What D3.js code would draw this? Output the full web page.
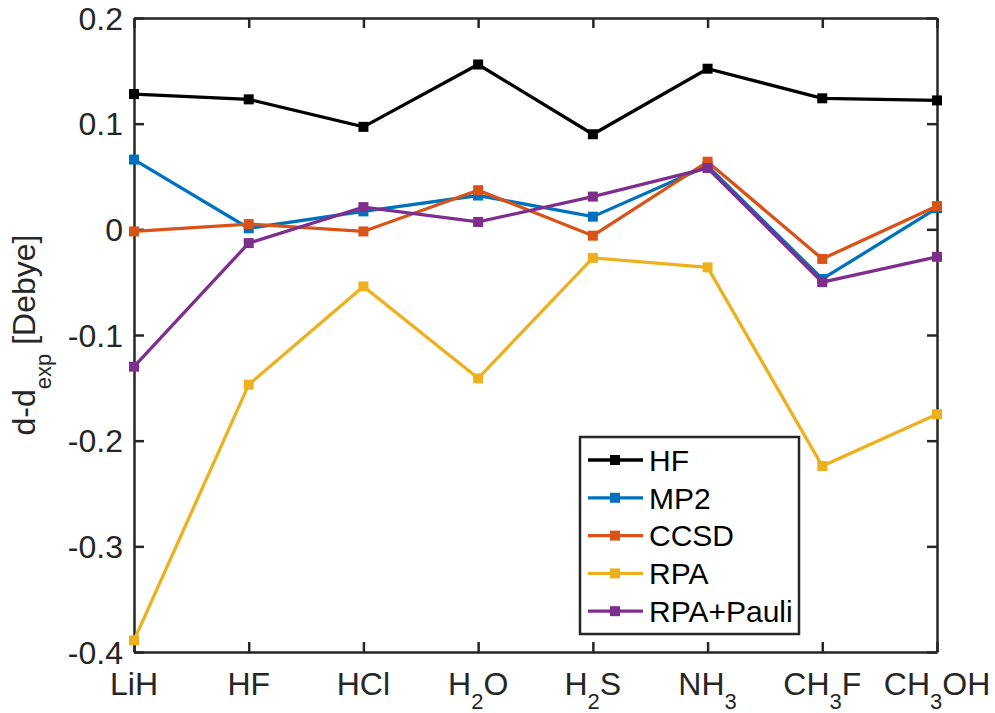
<!DOCTYPE html>
<html lang="en">
<head>
    <meta charset="UTF-8">
    <title>Dipole moment errors</title>
    <script src="https://d3js.org/d3.v7.min.js"></script>
</head>
<style>
    body { margin: 0; background: #fff; }
    svg text {
        font-family: "Liberation Sans", Arial, Helvetica, sans-serif;
        fill: #262626;
    }
    .series path.line { fill: none; stroke-width: 3.3; }
    .axis path, .axis line { stroke: #262626; stroke-width: 2.5; }
</style>
<body>
<script>
    // molecules on the x axis, [main, subscript, main, subscript, ...]
    const molecules = [
        ["LiH"],
        ["HF"],
        ["HCl"],
        ["H", "2", "O"],
        ["H", "2", "S"],
        ["NH", "3"],
        ["CH", "3", "F"],
        ["CH", "3", "OH"]
    ]
    const yTicks = [-0.4, -0.3, -0.2, -0.1, 0, 0.1, 0.2]
    const yTickLabels = ["-0.4", "-0.3", "-0.2", "-0.1", "0", "0.1", "0.2"]

    const hfVals    = [0.128, 0.123, 0.097, 0.156, 0.090, 0.152, 0.124, 0.122]
    const mp2Vals   = [0.066, 0.001, 0.017, 0.032, 0.012, 0.060, -0.047, 0.020]
    const ccsdVals  = [-0.002, 0.005, -0.002, 0.037, -0.006, 0.064, -0.028, 0.022]
    const rpaVals   = [-0.389, -0.147, -0.054, -0.141, -0.027, -0.036, -0.224, -0.175]
    const pauliVals = [-0.130, -0.013, 0.021, 0.007, 0.031, 0.058, -0.050, -0.026]

    const seriesNames = ["HF", "MP2", "CCSD", "RPA", "RPA+Pauli"]
    const seriesColors = ["#000000", "#0072BD", "#D95319", "#EDB120", "#7E2F8E"]
    const seriesVals = [hfVals, mp2Vals, ccsdVals, rpaVals, pauliVals]

    const margin = { top: 18, right: 58, bottom: 61, left: 134 }
    const W = 995, H = 713
    const width = W - margin.left - margin.right
    const height = H - margin.top - margin.bottom
    const fs = 32
    const subFs = 22

    const x = d3.scalePoint().domain(d3.range(molecules.length)).range([0, width])
    const y = d3.scaleLinear().domain([-0.4, 0.2]).range([height, 0])

    const svg = d3.select("body").append("svg")
        .attr("width", W)
        .attr("height", H)
        .append("g")
            .attr("transform", "translate(" + margin.left + "," + margin.top + ")")

    // box axes with inward ticks
    svg.append("g").attr("class", "axis")
        .attr("transform", "translate(0," + height + ")")
        .call(d3.axisBottom(x).tickSizeInner(-10).tickSizeOuter(0).tickFormat(""))
    svg.append("g").attr("class", "axis")
        .call(d3.axisTop(x).tickSizeInner(-10).tickSizeOuter(0).tickFormat(""))
    svg.append("g").attr("class", "axis")
        .call(d3.axisLeft(y).tickValues(yTicks).tickSizeInner(-10).tickSizeOuter(0).tickFormat(""))
    svg.append("g").attr("class", "axis")
        .attr("transform", "translate(" + width + ",0)")
        .call(d3.axisRight(y).tickValues(yTicks).tickSizeInner(-10).tickSizeOuter(0).tickFormat(""))

    // y tick labels
    svg.selectAll(".ylab").data(yTicks).enter().append("text")
        .attr("x", -11)
        .attr("y", d => y(d))
        .attr("dy", "0.36em")
        .style("text-anchor", "end")
        .style("font-size", fs + "px")
        .text((d, i) => yTickLabels[i])

    // x tick labels with subscripts
    molecules.forEach((parts, i) => {
        const t = svg.append("text")
            .attr("x", x(i))
            .attr("y", height + 43)
            .style("text-anchor", "middle")
            .style("font-size", fs + "px")
        parts.forEach((p, j) => {
            const sub = j % 2 === 1
            t.append("tspan")
                .attr("dy", sub ? 14 : (j > 0 ? -14 : 0))
                .style("font-size", sub ? subFs + "px" : fs + "px")
                .text(p)
        })
    })

    // y axis label
    const yl = svg.append("text")
        .attr("transform", "translate(" + (35 - margin.left) + "," + (height / 2) + ") rotate(-90)")
        .style("text-anchor", "middle")
        .style("font-size", fs + "px")
    yl.append("tspan").text("d-d")
    yl.append("tspan").attr("dy", 16).style("font-size", subFs + "px").text("exp")
    yl.append("tspan").attr("dy", -16).text(" [Debye]")

    const line = d3.line()
        .x((d, i) => x(i))
        .y(d => y(d))

    seriesVals.forEach((vals, k) => {
        const g = svg.append("g").attr("class", "series")
        g.append("path")
            .attr("class", "line")
            .attr("stroke", seriesColors[k])
            .attr("d", line(vals))
        g.selectAll("rect").data(vals).enter().append("rect")
            .attr("x", (d, i) => x(i) - 5)
            .attr("y", d => y(d) - 5)
            .attr("width", 10)
            .attr("height", 10)
            .attr("fill", seriesColors[k])
    })

    // legend
    const lg = svg.append("g").attr("transform", "translate(" + (580 - margin.left) + "," + (437 - margin.top) + ")")
    lg.append("rect")
        .attr("width", 219).attr("height", 197)
        .attr("fill", "#fff").attr("stroke", "#262626").attr("stroke-width", 2.5)
    seriesNames.forEach((name, k) => {
        const ry = 23 + k * 37.8
        lg.append("line")
            .attr("x1", 8).attr("x2", 63).attr("y1", ry).attr("y2", ry)
            .attr("stroke", seriesColors[k]).attr("stroke-width", 3.3)
        lg.append("rect")
            .attr("x", 30).attr("y", ry - 5).attr("width", 10).attr("height", 10)
            .attr("fill", seriesColors[k])
        lg.append("text")
            .attr("x", 69).attr("y", ry).attr("dy", "0.36em")
            .style("font-size", "30px")
            .style("fill", "#000")
            .text(name)
    })
</script>
</body>
</html>
